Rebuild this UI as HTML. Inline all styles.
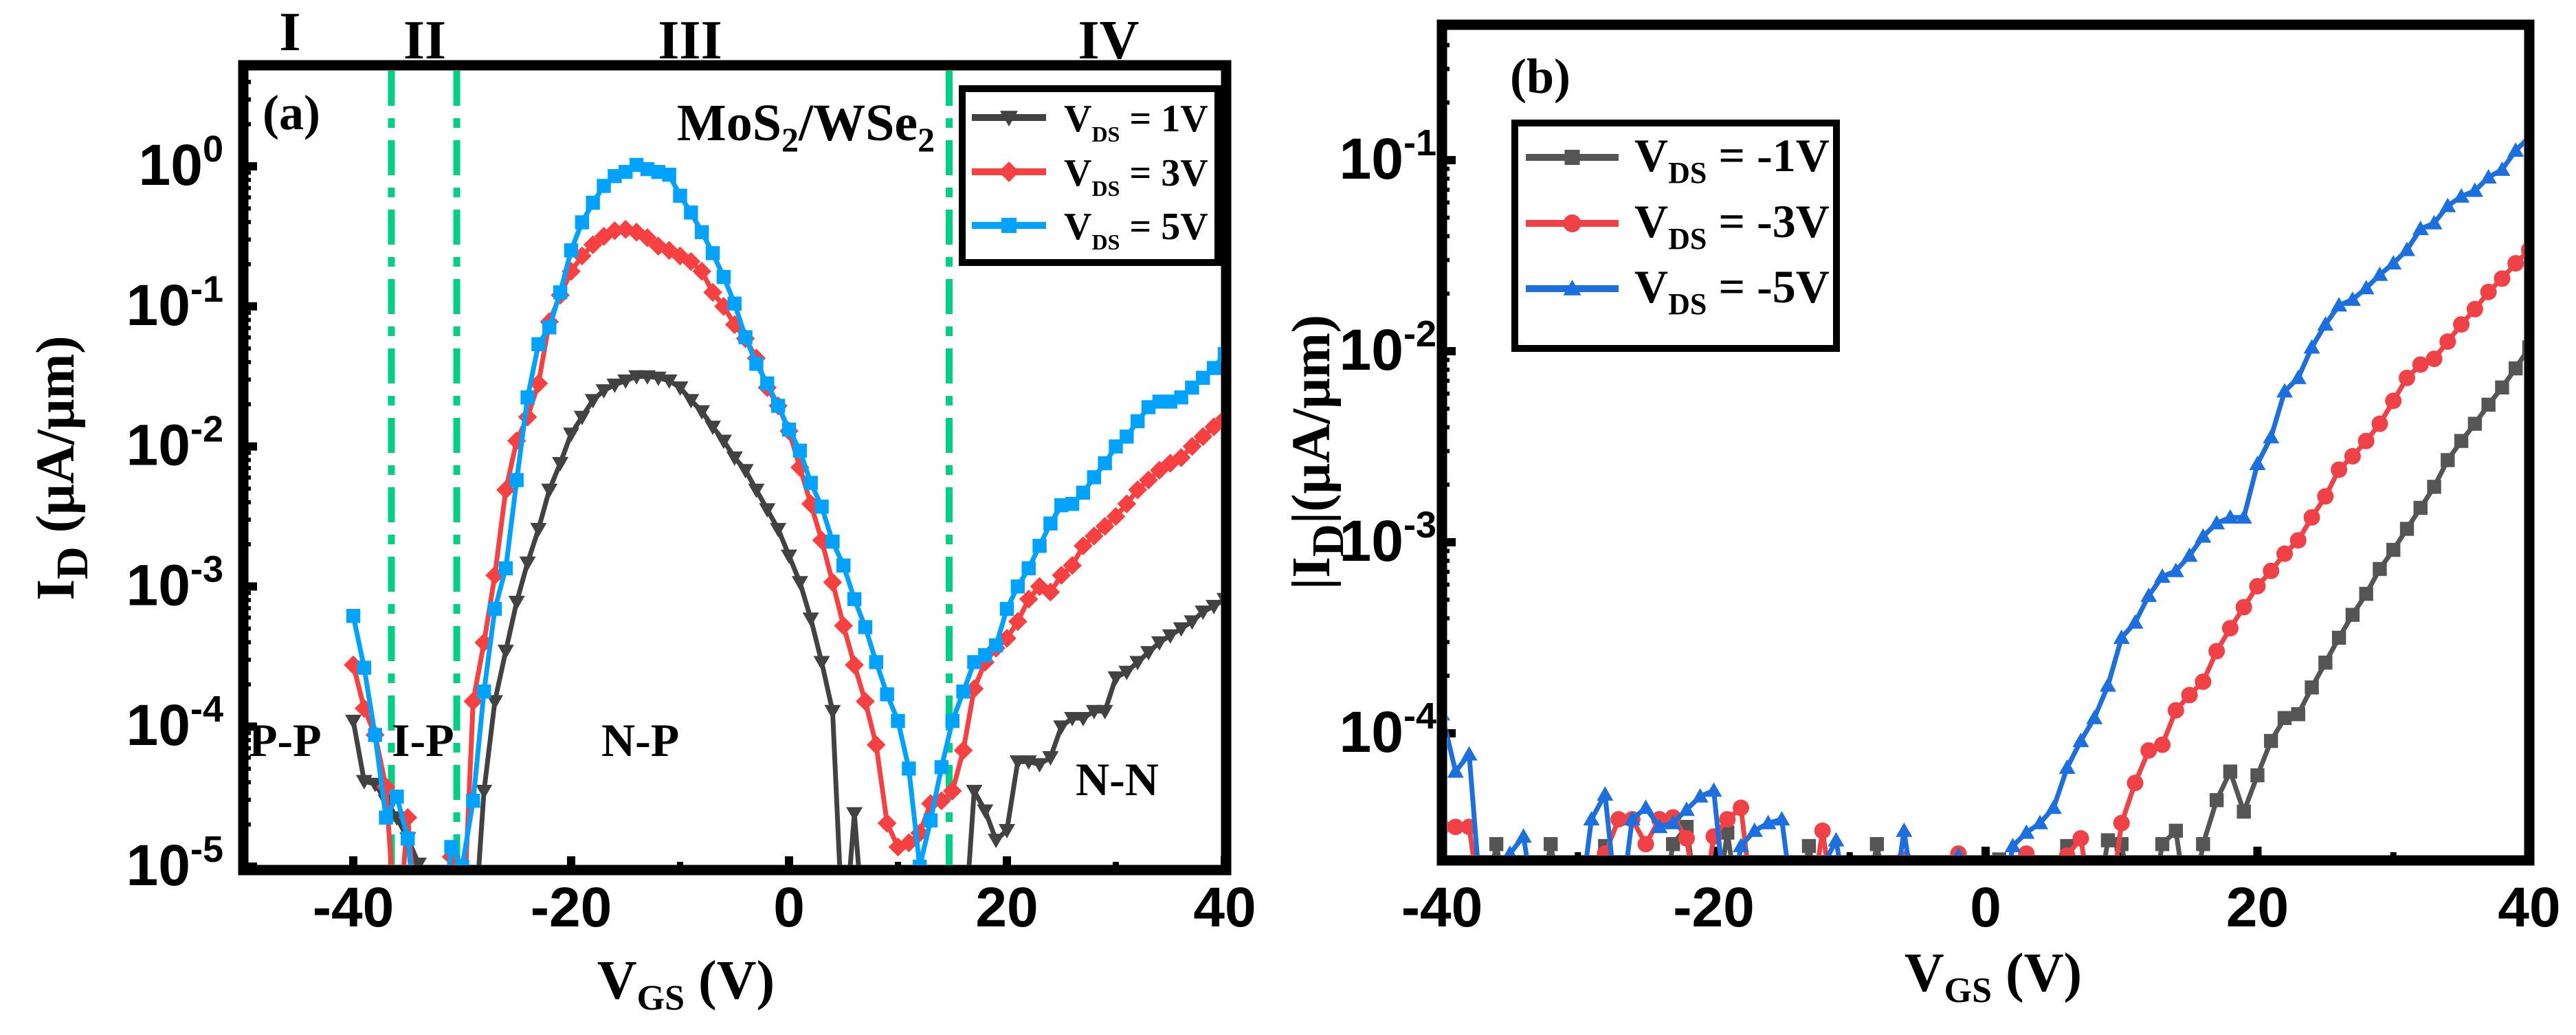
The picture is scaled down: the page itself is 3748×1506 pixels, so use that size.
<!DOCTYPE html>
<html><head><meta charset="utf-8"><title>MoS2/WSe2 transfer curves</title>
<style>
html,body{margin:0;padding:0;background:#fff;}
svg{display:block;}
.serif{font-family:"Liberation Serif",serif;font-weight:bold;}
.sans{font-family:"Liberation Sans",sans-serif;font-weight:bold;}
</style></head>
<body>
<svg id="fig" xmlns="http://www.w3.org/2000/svg" width="3748" height="1506" viewBox="0 0 3748 1506">
<defs>
<clipPath id="clipA"><rect x="361" y="103" width="1416" height="1156"/></clipPath>
<clipPath id="clipB"><rect x="2106" y="43" width="1567" height="1202"/></clipPath>
</defs>
<rect x="0" y="0" width="3748" height="1506" fill="#fff"/>
<g id="panelA"></g>
<g id="panelB"></g>

<text class="serif" x="422" y="73" font-size="80" text-anchor="middle">I</text>
<text class="serif" x="618" y="85" font-size="80" text-anchor="middle">II</text>
<text class="serif" x="1004" y="85" font-size="80" text-anchor="middle">III</text>
<text class="serif" x="1613" y="85" font-size="80" text-anchor="middle">IV</text>
<text class="serif" x="382" y="188" font-size="72">(a)</text>
<text class="serif" x="985" y="204" font-size="76">MoS<tspan font-size="50" dy="16">2</tspan><tspan dy="-16">/WSe</tspan><tspan font-size="50" dy="16">2</tspan></text>
<text class="serif" x="362" y="1100" font-size="68">P-P</text>
<text class="serif" x="570" y="1100" font-size="68">I-P</text>
<text class="serif" x="875" y="1100" font-size="68">N-P</text>
<text class="serif" x="1565" y="1157" font-size="68">N-N</text>
<text class="serif" x="998" y="1453" font-size="80" text-anchor="middle">V<tspan font-size="52" dy="16">GS</tspan><tspan dy="-16"> (V)</tspan></text>
<text class="serif" transform="translate(107,681) rotate(-90)" font-size="79" text-anchor="middle">I<tspan font-size="66" dy="20">D</tspan><tspan dy="-20"> (μA/μm)</tspan></text>

<text class="serif" x="2197" y="135" font-size="72">(b)</text>
<text class="serif" x="2900" y="1442" font-size="80" text-anchor="middle">V<tspan font-size="52" dy="16">GS</tspan><tspan dy="-16"> (V)</tspan></text>
<text class="serif" transform="translate(1934,658) rotate(-90)" font-size="79" text-anchor="middle">|I<tspan font-size="66" dy="20">D</tspan><tspan dy="-20">|(μA/μm)</tspan></text>
</svg>

<script>
const vgs = [-40,-39,-38,-37,-36,-35,-34,-33,-32,-31,-30,-29,-28,-27,-26,-25,-24,-23,-22,-21,-20,-19,-18,-17,-16,-15,-14,-13,-12,-11,-10,-9,-8,-7,-6,-5,-4,-3,-2,-1,0,1,2,3,4,5,6,7,8,9,10,11,12,13,14,15,16,17,18,19,20,21,22,23,24,25,26,27,28,29,30,31,32,33,34,35,36,37,38,39,40];

const logA_vds1 = [-3.96,-4.39,-4.41,-4.53,-4.65,-4.8,-4.98,-5.6,-5.6,-5.6,-5.6,-5.6,-4.46,-3.82,-3.46,-3.11,-2.83,-2.59,-2.31,-2.12,-1.91,-1.79,-1.67,-1.60,-1.56,-1.53,-1.50,-1.50,-1.51,-1.53,-1.58,-1.67,-1.75,-1.86,-1.96,-2.08,-2.17,-2.31,-2.45,-2.59,-2.78,-2.97,-3.23,-3.54,-3.89,-5.6,-4.62,-5.6,-5.6,-5.6,-5.6,-5.6,-5.6,-5.6,-5.6,-5.6,-5.6,-4.46,-4.6,-4.81,-4.74,-4.25,-4.25,-4.27,-4.22,-4.0,-3.94,-3.94,-3.89,-3.89,-3.65,-3.61,-3.54,-3.47,-3.40,-3.35,-3.30,-3.25,-3.18,-3.14,-3.09];
const logA_vds3 = [-3.56,-3.87,-4.06,-4.43,-5.6,-4.65,-5.6,-5.6,-5.6,-4.93,-5.6,-3.82,-3.4,-2.92,-2.31,-1.96,-1.79,-1.55,-1.11,-0.92,-0.75,-0.64,-0.56,-0.50,-0.46,-0.45,-0.47,-0.51,-0.57,-0.60,-0.64,-0.68,-0.75,-0.90,-1.0,-1.13,-1.23,-1.37,-1.58,-1.71,-1.89,-2.15,-2.41,-2.67,-2.97,-3.28,-3.56,-3.82,-4.13,-4.69,-4.86,-4.83,-4.76,-4.55,-4.53,-4.46,-4.17,-3.73,-3.54,-3.44,-3.37,-3.25,-3.09,-3.0,-3.04,-2.92,-2.85,-2.71,-2.64,-2.57,-2.5,-2.41,-2.31,-2.24,-2.17,-2.12,-2.08,-2.0,-1.93,-1.86,-1.80];
const logA_vds5 = [-3.21,-3.58,-4.06,-4.65,-4.5,-4.8,-5.6,-5.6,-5.6,-4.86,-5.0,-4.53,-3.75,-3.16,-2.87,-2.24,-1.65,-1.27,-1.15,-0.90,-0.60,-0.40,-0.26,-0.14,-0.07,-0.04,0.01,-0.02,-0.04,-0.06,-0.21,-0.33,-0.47,-0.62,-0.79,-0.98,-1.22,-1.41,-1.55,-1.71,-1.88,-2.03,-2.26,-2.43,-2.68,-2.85,-3.09,-3.29,-3.54,-3.77,-3.96,-4.3,-5.0,-4.67,-4.29,-3.96,-3.75,-3.54,-3.49,-3.42,-3.16,-3.0,-2.87,-2.71,-2.55,-2.42,-2.41,-2.33,-2.22,-2.12,-2.0,-1.93,-1.82,-1.72,-1.68,-1.68,-1.65,-1.58,-1.51,-1.44,-1.34];

const logB_vdsm1 = [-5,-5,-5,-5,-4.58,-5,-5,-5,-4.58,-5,-5,-5,-4.59,-5,-5,-5,-5,-4.58,-4.49,-5,-5,-4.52,-5,-5,-5,-5,-5,-4.59,-5,-5,-5,-5,-4.58,-5,-5,-5,-5,-5,-5,-5,-5,-4.66,-5,-5,-5,-5,-4.59,-5,-5,-4.56,-4.58,-5,-5,-4.58,-4.51,-5,-4.58,-4.35,-4.20,-4.41,-4.22,-4.04,-3.92,-3.90,-3.76,-3.63,-3.50,-3.38,-3.27,-3.14,-3.04,-2.93,-2.82,-2.71,-2.57,-2.47,-2.38,-2.28,-2.19,-2.09,-1.98];
const logB_vdsm3 = [-4.49,-4.49,-4.49,-5,-5,-5,-5,-5,-5,-5,-5,-5,-4.63,-4.45,-4.45,-4.58,-4.45,-4.44,-4.55,-5,-4.54,-4.45,-4.39,-5,-5,-5,-5,-5,-4.51,-5,-5,-5,-5,-5,-4.66,-5,-5,-5,-4.63,-5,-5,-5,-5,-4.63,-5,-5,-4.64,-4.55,-5,-5,-4.47,-4.26,-4.09,-4.06,-3.88,-3.80,-3.73,-3.57,-3.45,-3.34,-3.23,-3.15,-3.06,-2.99,-2.87,-2.76,-2.62,-2.55,-2.47,-2.38,-2.26,-2.14,-2.07,-2.04,-1.95,-1.86,-1.78,-1.69,-1.62,-1.54,-1.47];
const logB_vdsm5 = [-3.90,-4.20,-4.11,-5,-5,-4.63,-4.54,-5,-5,-5,-5,-4.45,-4.32,-5,-4.45,-4.39,-4.49,-4.47,-4.40,-4.33,-4.30,-5,-4.59,-4.51,-4.47,-4.45,-5,-5,-4.70,-4.56,-5,-5,-5,-5,-4.51,-5,-5,-5,-4.64,-5,-5,-5,-4.59,-4.52,-4.47,-4.39,-4.18,-4.04,-3.92,-3.75,-3.50,-3.42,-3.28,-3.18,-3.15,-3.07,-2.97,-2.90,-2.87,-2.87,-2.59,-2.45,-2.21,-2.14,-1.98,-1.86,-1.76,-1.73,-1.67,-1.60,-1.54,-1.47,-1.36,-1.33,-1.24,-1.19,-1.16,-1.09,-1.05,-0.95,-0.88];

const legendA = ["= 1V","= 3V","= 5V"];
const legendB = ["= -1V","= -3V","= -5V"];
const xTicks = [-40,-20,0,20,40];
const xMinorA = [-30,-10,10,30];
const xMinorB = [-30,-10,10,30];
const yDecadesA = [0,-1,-2,-3,-4,-5];
const yDecadesB = [-1,-2,-3,-4];
const regionBoundaries = [-36.5,-30.5,14.7];

const NS = "http://www.w3.org/2000/svg";
function xA(v){ return 514 + (v + 40) * 15.85; }
function yA(L){ return 242 - L * 203.8; }
function xB(v){ return 2098 + (v + 40) * 19.775; }
function yB(L){ return 233 - (L + 1) * 278; }

function mk(tag, attrs, parent){
  const e = document.createElementNS(NS, tag);
  for (const k in attrs) e.setAttribute(k, attrs[k]);
  parent.appendChild(e);
  return e;
}

function marker(shape, x, y, s, color, parent){
  let e;
  if (shape === "tridown") e = mk("polygon",{points:`${x-s},${y-s*0.75} ${x+s},${y-s*0.75} ${x},${y+s}`,fill:color},parent);
  else if (shape === "triup") e = mk("polygon",{points:`${x-s},${y+s*0.75} ${x+s},${y+s*0.75} ${x},${y-s}`,fill:color},parent);
  else if (shape === "diamond") e = mk("polygon",{points:`${x},${y-s*1.15} ${x+s*1.15},${y} ${x},${y+s*1.15} ${x-s*1.15},${y}`,fill:color},parent);
  else if (shape === "square") e = mk("rect",{x:x-s*0.85,y:y-s*0.85,width:s*1.7,height:s*1.7,fill:color},parent);
  else e = mk("circle",{cx:x,cy:y,r:s,fill:color},parent);
  return e;
}

function drawSeries(parent, clip, fx, fy, xs, ys, color, shape, name){
  const g = mk("g",{"clip-path":`url(#${clip})`},parent);
  
  
  let d = "";
  xs.forEach((v,i)=>{ d += (i?"L":"M") + fx(v).toFixed(1) + "," + fy(ys[i]).toFixed(1); });
  const p = mk("path",{d:d,fill:"none",stroke:color,"stroke-width":7,"stroke-linejoin":"round"},g);
  
  
  xs.forEach((v,i)=>{
    const m = marker(shape, fx(v), fy(ys[i]), 12, color, g);
    
    
  });
}

function drawAxes(parent, fx, fy, box, decades, yLabelX, minorX, prefix){
  const [L,T,R,B] = box;
  xTicks.forEach(v=>{
    const t = mk("line",{x1:fx(v),x2:fx(v),y1:B,y2:B-20,stroke:"#000","stroke-width":12},parent);
    
    
    const lb = mk("text",{x:fx(v),y:1348,"font-size":82,"text-anchor":"middle",class:"sans"},parent);
    lb.textContent = String(v);
    
    
  });
  minorX.forEach(v=>{
    const t = mk("line",{x1:fx(v),x2:fx(v),y1:B,y2:B-12,stroke:"#000","stroke-width":9},parent);
    
    
  });
  decades.forEach(dv=>{
    const y = fy(dv);
    const t = mk("line",{x1:L,x2:L+20,y1:y,y2:y,stroke:"#000","stroke-width":12},parent);
    
    
    for (let k=2;k<=9;k++){
      const ym = fy(dv + Math.log10(k));
      if (ym > T+4 && ym < B-4){
        const m = mk("line",{x1:L,x2:L+11,y1:ym,y2:ym,stroke:"#000","stroke-width":6},parent);
        
        
      }
    }
    const lb = mk("text",{x:yLabelX,y:y+27,"font-size":84,"text-anchor":"end",class:"sans"},parent);
    
    
    const a = mk("tspan",{},lb); a.textContent = "10";
    const b = mk("tspan",{"font-size":54,dy:-34},lb); b.textContent = String(dv);
  });
  for (let k=2;k<=9;k++){
    const ym = fy(decades[0] + Math.log10(k));
    if (ym > T+4){
      const m = mk("line",{x1:L,x2:L+11,y1:ym,y2:ym,stroke:"#000","stroke-width":6},parent);
      
      
    }
  }
  const fr = mk("rect",{x:L,y:T,width:R-L,height:B-T,fill:"none",stroke:"#000","stroke-width":15},parent);
  
  
}

function drawLegend(parent, box, rows, labels, fs, subfs, subdy, lineX, textX, prefix){
  const lg = mk("g",{},parent);
  
  
  mk("rect",{x:box[0],y:box[1],width:box[2]-box[0],height:box[3]-box[1],fill:"#fff",stroke:"#000","stroke-width":10},lg);
  rows.forEach((r,i)=>{
    const e = mk("g",{},lg);
    
    
    mk("line",{x1:lineX[0],x2:lineX[1],y1:r.y,y2:r.y,stroke:r.color,"stroke-width":10},e);
    marker(r.shape,(lineX[0]+lineX[1])/2,r.y,13,r.color,e);
    const t = mk("text",{x:textX,y:r.y+20,"font-size":fs,class:"serif"},e);
    const a = mk("tspan",{},t); a.textContent = "V";
    const b = mk("tspan",{"font-size":subfs,dy:subdy},t); b.textContent = "DS";
    const c = mk("tspan",{dy:-subdy},t); c.textContent = " " + labels[i];
  });
}

const pA = document.getElementById("panelA");
drawAxes(pA, xA, yA, [354,95,1784,1266], yDecadesA, 325, xMinorA, "panel-a");
regionBoundaries.forEach(v=>{
  const l = mk("line",{x1:xA(v),x2:xA(v),y1:103,y2:1259,stroke:"#00d084","stroke-width":10,"stroke-dasharray":"51 18 14 18"},pA);
  
  
});
drawSeries(pA,"clipA",xA,yA,vgs,logA_vds1,"#424242","tridown","series-vds-1v");
drawSeries(pA,"clipA",xA,yA,vgs,logA_vds3,"#f94040","diamond","series-vds-3v");
drawSeries(pA,"clipA",xA,yA,vgs,logA_vds5,"#00a2ff","square","series-vds-5v");
drawLegend(pA,[1400,129,1772,382],[
  {y:171,color:"#424242",shape:"tridown"},
  {y:250,color:"#f94040",shape:"diamond"},
  {y:328,color:"#00a2ff",shape:"square"}],legendA,56,32,15,[1414,1522],1548,"panel-a");

const pB = document.getElementById("panelB");
drawAxes(pB, xB, yB, [2098,36,3680,1252], yDecadesB, 2090, xMinorB, "panel-b");
drawSeries(pB,"clipB",xB,yB,vgs,logB_vdsm1,"#555555","square","series-vds-m1v");
drawSeries(pB,"clipB",xB,yB,vgs,logB_vdsm3,"#ef4146","circle","series-vds-m3v");
drawSeries(pB,"clipB",xB,yB,vgs,logB_vdsm5,"#1b6fde","triup","series-vds-m5v");
drawLegend(pB,[2204,179,2672,507],[
  {y:229,color:"#555555",shape:"square"},
  {y:325,color:"#ef4146",shape:"circle"},
  {y:420,color:"#1b6fde",shape:"triup"}],legendB,68,44,17,[2220,2355],2378,"panel-b");
</script>
</body></html>
